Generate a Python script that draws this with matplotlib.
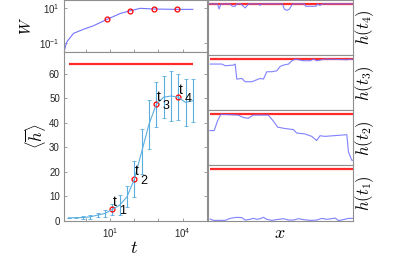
import matplotlib
matplotlib.use('Agg')
import matplotlib.pyplot as plt
from matplotlib.ticker import NullLocator

plt.rcParams['font.family'] = 'Liberation Sans'
plt.rcParams['mathtext.fontset'] = 'custom'
plt.rcParams['mathtext.rm'] = 'Liberation Sans'
plt.rcParams['mathtext.it'] = 'Liberation Sans:italic'
plt.rcParams['mathtext.bf'] = 'Liberation Sans:bold'

# mean height vs time (bottom left)
t = [0.2, 0.4, 0.8, 1.6, 3.2, 6.4, 12.8, 25.6, 51, 102, 205, 410, 819, 1638, 3277, 6554, 13107, 26214]
h_mean = [1.2, 1.2, 1.3, 1.6, 2.3, 3.0, 4.6, 6.4, 9.8, 17.0, 28.2, 39.5, 47.6, 50.5, 51.0, 50.5, 48.4, 49.1]
h_err = [0.0, 0.3, 0.5, 0.8, 0.95, 1.4, 2.2, 4.1, 4.4, 7.5, 9.1, 10.0, 9.3, 8.7, 10.2, 9.5, 9.6, 8.8]
idx_marks = [6, 9, 12, 15]
h_sat = 64

# width vs time (top left)
t_w = [0.13, 0.17, 0.32, 0.83, 2.1, 7.6, 27, 69, 178, 630, 5750, 26000]
w = [0.033, 0.12, 0.37, 0.63, 1.0, 2.3, 5.1, 7.2, 10.0, 9.1, 8.7, 8.7]
t_w_marks = [7.6, 69, 630, 5750]
w_marks = [2.3, 7.2, 9.1, 8.7]

# profiles h(x) at t1..t4 (right column)
x_t4 = [1.1, 6.9, 8.0, 9.2, 15.4, 17.2, 19.1, 20.0, 23.0, 26.0, 28.3, 35.6, 36.3, 37.0,
        51.7, 53.0, 54.7, 56.5, 58.6, 66.7, 67.8, 74.7, 75.9, 77.5, 79.3, 100]
h_t4 = [64, 64, 57.6, 64, 64, 61, 61, 64, 64, 58.9, 64, 64, 62, 64,
        64, 57.5, 55.9, 57.5, 64, 64, 61, 61, 64, 62, 64, 64]
x_t3 = [1.8, 9.9, 12.2, 17.9, 19.1, 20.2, 23.7, 26.0, 30.6, 34.0, 36.3, 38.6, 40.9, 44.4,
        47.8, 50.1, 52.4, 55.9, 58.2, 60.5, 66.2, 70.8, 73.1, 75.4, 81.1, 96.1, 100]
h_t3 = [57.8, 57.8, 55.7, 56.5, 57.8, 39.0, 39.8, 35.7, 35.7, 38.2, 39.8, 39.0, 48.2, 48.2,
        49.4, 54.8, 56.5, 57.8, 61.9, 64.0, 61.9, 61.9, 64.0, 61.9, 64.0, 63.2, 64.0]
x_t2 = [1.6, 4.6, 6.9, 9.2, 21.2, 24.7, 28.1, 31.6, 41.9, 45.4, 48.4, 53.5, 59.2, 61.5,
        67.3, 71.9, 75.3, 77.6, 81.1, 96.1, 97.2, 99.5, 100]
h_t2 = [43.6, 43.6, 55.6, 64.0, 63.0, 60.0, 59.0, 63.0, 63.0, 55.6, 47.9, 46.2, 44.9, 40.6,
        39.4, 36.4, 31.2, 37.2, 36.4, 38.5, 17.2, 6.5, 6.5]
x_t1 = [1.8, 4.1, 12.2, 15.6, 20.2, 23.7, 26.0, 29.4, 31.7, 34.0, 36.3, 38.6, 40.9, 44.4, 49.0,
        52.4, 55.9, 59.3, 62.8, 66.2, 70.8, 75.4, 78.9, 82.3, 85.7, 88.0, 90.3, 93.8, 97.2, 100]
h_t1 = [2.1, 0.4, 0.4, 2.9, 4.2, 3.8, 0.8, 1.7, 2.9, 1.7, 2.5, 4.2, 1.7, 0.4, 1.7,
        2.5, 0.8, 0.8, 2.5, 1.3, 0.4, 0.8, 2.9, 1.7, 2.5, 3.3, 0.2, 1.3, 2.9, 2.9]
profiles = [(x_t4, h_t4, r'$h(t_4)$'), (x_t3, h_t3, r'$h(t_3)$'),
            (x_t2, h_t2, r'$h(t_2)$'), (x_t1, h_t1, r'$h(t_1)$')]

SPINE = '#8f8f8f'
ERRBLUE = '#5aaee0'
PROFBLUE = '#7373ff'


def style_box(ax, ticks=True):
    for s in ax.spines.values():
        s.set_color(SPINE)
        s.set_linewidth(0.8)
    if ticks:
        ax.tick_params(direction='in', length=2.5, width=0.6, color=SPINE,
                       labelsize=7, labelcolor='#262626', right=True, pad=3)
    else:
        ax.set_xticks([])
        ax.set_yticks([])


fig = plt.figure(figsize=(4.15, 2.6), dpi=100)

# top left: W(t)
ax_w = fig.add_axes([0.1542, 0.8012, 0.3446, 0.1969])
ax_w.plot(t_w, w, color=PROFBLUE, lw=0.8)
ax_w.plot(t_w_marks, w_marks, 'o', ms=3.5, mfc='none', mec='red', mew=0.9)
ax_w.set_xscale('log')
ax_w.set_yscale('log')
ax_w.set_xlim(0.13, 1e5)
ax_w.set_ylim(0.033, 28)
ax_w.set_xticks([1, 10, 100, 1000, 1e4], ['', '', '', '', ''])
ax_w.set_yticks([0.1, 10], [r'$10^{-1}$', r'$10^{1}$'])
ax_w.xaxis.set_minor_locator(NullLocator())
ax_w.yaxis.set_minor_locator(NullLocator())
style_box(ax_w)

# bottom left: <h>(t)
ax_h = fig.add_axes([0.1542, 0.1512, 0.3446, 0.6488])
ax_h.hlines(h_sat, t[0], t[-1], color='#ff2a2a', lw=1.6)
ax_h.errorbar(t, h_mean, yerr=h_err, color=ERRBLUE, lw=0.8, elinewidth=0.8,
              capsize=1.5, capthick=0.6)
t_marks = [t[i] for i in idx_marks]
h_marks = [h_mean[i] for i in idx_marks]
ax_h.plot(t_marks, h_marks, 'o', ms=3.5, mfc='none', mec='red', mew=0.9)
for k, (tm, hm) in enumerate(zip(t_marks, h_marks)):
    ax_h.annotate('t', (tm, hm), xytext=(1.8, 5.5), textcoords='offset points',
                  ha='center', va='center', fontsize=10, color='black')
    ax_h.annotate(str(k + 1), (tm, hm), xytext=(7.0, -1), textcoords='offset points',
                  ha='center', va='center', fontsize=9, color='black')
ax_h.set_xscale('log')
ax_h.set_xlim(0.13, 1e5)
ax_h.set_ylim(0, 69)
ax_h.set_xticks([1, 10, 100, 1000, 1e4], ['', r'$10^{1}$', '', '', r'$10^{4}$'])
ax_h.set_yticks(range(0, 70, 10))
ax_h.xaxis.set_minor_locator(NullLocator())
style_box(ax_h)
ax_h.tick_params(axis='x', pad=4)

# right column: profiles
panel_h = 0.2123
for row, (xp, hp, lbl) in enumerate(profiles):
    bottom = 0.1512 + (3 - row) * panel_h
    ax = fig.add_axes([0.5, bottom, 0.3494, panel_h])
    ax.hlines(h_sat, xp[0], xp[-1], color='#ff2a2a', lw=1.6)
    ax.plot(xp, hp, color=PROFBLUE, lw=0.8, alpha=0.9)
    ax.set_xlim(0, 100)
    ax.set_ylim(0, 69)
    style_box(ax, ticks=False)
    ax.text(1.086, 0.5, lbl, transform=ax.transAxes, rotation=90, ha='center',
            va='center', fontsize=12, math_fontfamily='cm')

fig.text(0.324, 0.046, r'$t$', ha='center', va='center', fontsize=13, math_fontfamily='cm')
fig.text(0.675, 0.1, r'$x$', ha='center', va='center', fontsize=13, math_fontfamily='cm')
fig.text(0.088, 0.477, r'$\langle \overline{h} \rangle$', rotation=90, ha='center',
         va='center', fontsize=12, math_fontfamily='cm')
fig.text(0.065, 0.9, r'$W$', rotation=90, ha='center', va='center', fontsize=11,
         math_fontfamily='cm')

fig.savefig('out.png', dpi=100)
